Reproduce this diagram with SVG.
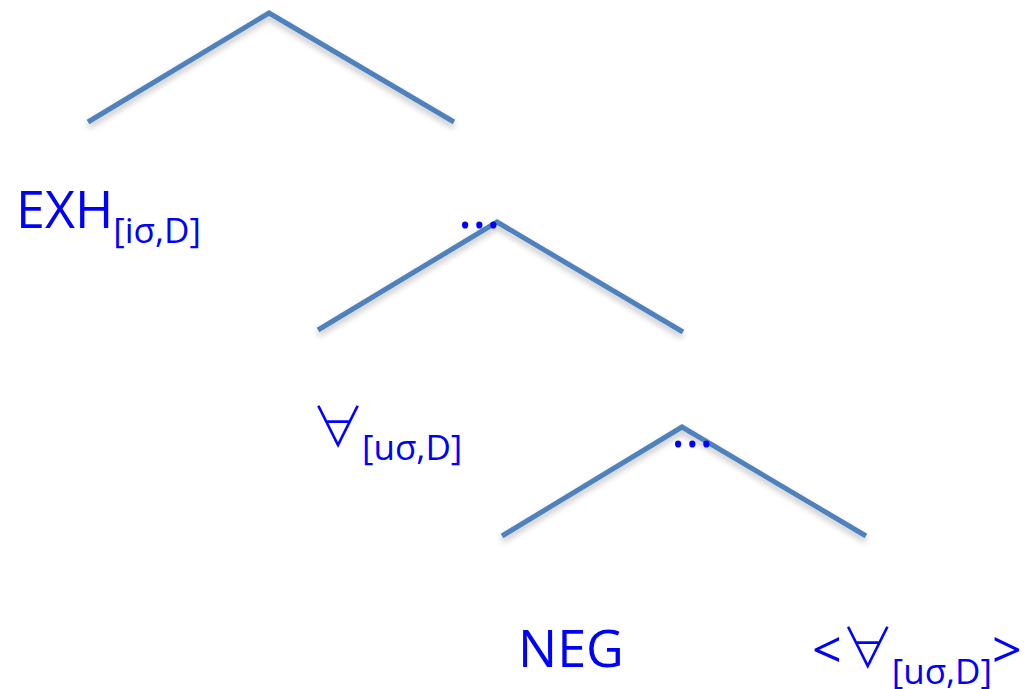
<svg xmlns="http://www.w3.org/2000/svg" width="1026" height="689" viewBox="0 0 1026 689">
<style>
.br{fill:none;stroke:#4f81bd;stroke-width:5;stroke-linejoin:miter}
.t{font-family:"Open Sans","Liberation Sans",sans-serif;fill:#0000ff}
.big{font-size:52px}
.sub{font-size:35px}
.fa{font-family:"Noto Sans CJK JP","DejaVu Sans",sans-serif;font-size:54px;font-weight:300}
.dots{font-size:54px}
</style>
<defs>
<filter id="sh" x="-10%" y="-10%" width="120%" height="140%">
<feGaussianBlur in="SourceAlpha" stdDeviation="3"/>
<feOffset dx="0" dy="4" result="b"/>
<feComponentTransfer><feFuncA type="linear" slope="0.25"/></feComponentTransfer>
<feMerge><feMergeNode/><feMergeNode in="SourceGraphic"/></feMerge>
</filter>
</defs>
<g id="connectors" filter="url(#sh)">
<polyline class="br" points="88,122 269,13 454,122"/>
<polyline class="br" points="318,330 497,222 683,332"/>
<polyline class="br" points="502,536 682,427 866,536"/>
</g>
<g id="dots1"><text class="t dots" x="458" y="228">...</text></g>
<g id="dots2"><text class="t dots" x="671" y="447">...</text></g>
<g id="exh"><text class="t big" x="16" y="228">EXH<tspan class="sub" dy="15">[iσ,D]</tspan></text></g>
<g id="forall"><text class="t big" x="311" y="447"><tspan class="fa">∀</tspan><tspan class="sub" dx="-3" dy="13">[uσ,D]</tspan></text></g>
<g id="neg"><text class="t big" x="518" y="667">NEG</text></g>
<g id="trace"><text class="t big" x="812" y="668">&lt;<tspan class="fa" dx="-1">∀</tspan><tspan class="sub" dx="-3" dy="16">[uσ,D]</tspan><tspan dy="-16">&gt;</tspan></text></g>
</svg>
